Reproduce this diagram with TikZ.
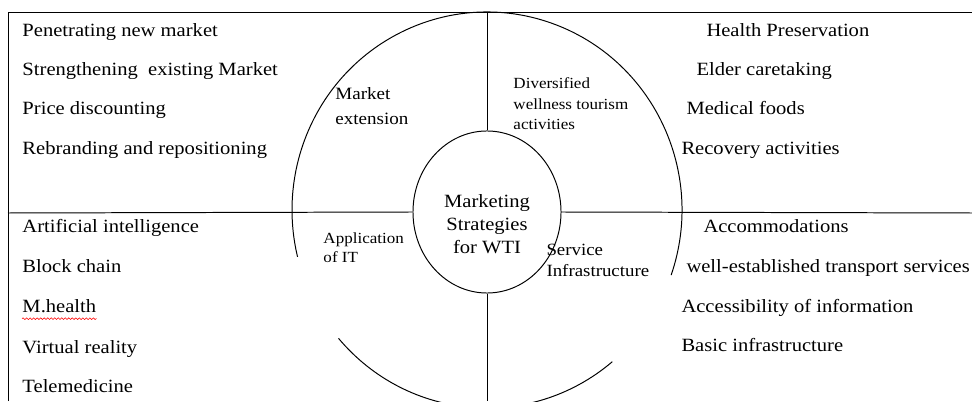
\documentclass[tikz,border=0pt]{standalone}
\usepackage{fontspec}
\setmainfont[FakeStretch=1.1]{Liberation Serif}
\usetikzlibrary{shapes.geometric,decorations.pathmorphing}

\begin{document}
\begin{tikzpicture}[x=0.025cm,y=0.025cm,line width=0.7pt,
		item/.style={anchor=base west,inner sep=0pt,font=\fontsize{13.3}{16}\selectfont},
		tag/.style={anchor=base west,inner sep=0pt,align=left},
		squiggle/.style={red,line width=0.4pt,decorate,decoration={snake,amplitude=0.6pt,segment length=2.5pt}}]
		\clip (0,0) rectangle (972,401);

		\coordinate (nw) at (8,389);
		\coordinate (ne) at (972,389);
		\coordinate (sw) at (8,0);
		\coordinate (w) at (8,188);
		\coordinate (e) at (972,188);
		\coordinate (ring) at (487,191);

		\node[ellipse,draw,minimum width=3.7cm,minimum height=4.05cm,inner sep=0pt] (core) at (487,189) {};
		\node[align=center,inner sep=0pt,font=\fontsize{13.3}{16.4}\selectfont] (corelabel) at (487,177) {Marketing\\Strategies\\for WTI};

		\draw (sw) -- (nw) -- (ne);
		\draw (w) -- (core.west);
		\draw (core.east) -- (e);
		\draw (core.north) -- (core.north |- nw);
		\draw (core.south) -- (core.south |- sw);

		\draw (ring) ++(-19.2:195 and 198) arc[start angle=-19.2,end angle=193.7,x radius=195,y radius=198];
		\draw (ring) ++(220.4:195 and 198) arc[start angle=220.4,end angle=310,x radius=195,y radius=198];

		\node[tag,font=\fontsize{12.3}{17.8}\selectfont] (market) at (335,276) {Market\\extension};
		\node[tag,font=\fontsize{11}{14.9}\selectfont] (wellness) at (513,271) {Diversified\\wellness tourism\\activities};
		\node[tag,font=\fontsize{11}{14.2}\selectfont] (itapp) at (323,138) {Application\\of IT};
		\node[tag,font=\fontsize{12.2}{15.6}\selectfont] (service) at (546,124) {Service\\Infrastructure};

		\node[item] (pen) at (22,364) {Penetrating new market};
		\node[item] (str) at (22,325) {Strengthening\ \ existing Market};
		\node[item] (price) at (22,286) {Price discounting};
		\node[item] (rebrand) at (22,246) {Rebranding and repositioning};

		\node[item] (health) at (706,364) {Health Preservation};
		\node[item] (elder) at (696,325) {Elder caretaking};
		\node[item] (food) at (686,286) {Medical foods};
		\node[item] (recovery) at (681,246) {Recovery activities};

		\node[item] (ai) at (22,168) {Artificial intelligence};
		\node[item] (block) at (22,128) {Block chain};
		\node[item] (mhealth) at (22,88) {M.health};
		\node[item] (vr) at (22,48) {Virtual reality};
		\node[item] (tele) at (22,9) {Telemedicine};

		\node[item] (accom) at (703,168) {Accommodations};
		\node[item] (transport) at (686,128) {well-established transport services};
		\node[item] (access) at (681,89) {Accessibility of information};
		\node[item] (basic) at (681,49) {Basic infrastructure};

		\draw[squiggle] ([yshift=-3.5]mhealth.south west) -- ([yshift=-3.5]mhealth.south east);
\end{tikzpicture}
\end{document}
